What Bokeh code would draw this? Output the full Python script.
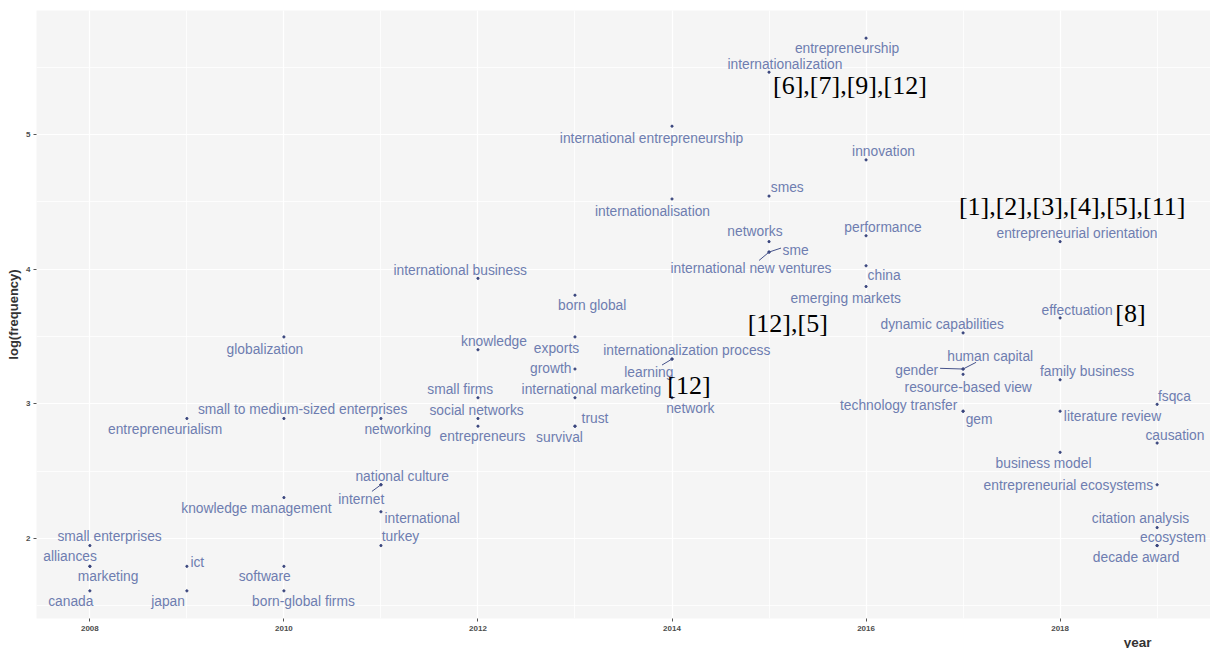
import numpy as np
from bokeh.plotting import figure
from bokeh.models import SingleIntervalTicker, ColumnDataSource, Title
from bokeh.embed import file_html
from bokeh.resources import INLINE
from bokeh.core.properties import value

# ---------------- data ----------------
keywords = [
    "small enterprises", "alliances", "marketing", "canada",
    "entrepreneurialism", "ict", "japan",
    "globalization", "small to medium-sized enterprises", "knowledge management", "software", "born-global firms",
    "networking", "national culture", "internet", "international", "turkey",
    "international business", "knowledge", "small firms", "social networks", "entrepreneurs",
    "born global", "exports", "growth", "international marketing", "trust", "survival",
    "international entrepreneurship", "internationalisation", "internationalization process", "learning", "network",
    "internationalization", "smes", "networks", "sme", "international new ventures",
    "entrepreneurship", "innovation", "performance", "china", "emerging markets",
    "dynamic capabilities", "human capital", "gender", "resource-based view", "technology transfer", "gem",
    "entrepreneurial orientation", "effectuation", "family business", "literature review", "business model",
    "fsqca", "causation", "entrepreneurial ecosystems", "citation analysis", "ecosystem", "decade award",
]
years = [
    2008, 2008, 2008, 2008,
    2009, 2009, 2009,
    2010, 2010, 2010, 2010, 2010,
    2011, 2011, 2011, 2011, 2011,
    2012, 2012, 2012, 2012, 2012,
    2013, 2013, 2013, 2013, 2013, 2013,
    2014, 2014, 2014, 2014, 2014,
    2015, 2015, 2015, 2015, 2015,
    2016, 2016, 2016, 2016, 2016,
    2017, 2017, 2017, 2017, 2017, 2017,
    2018, 2018, 2018, 2018, 2018,
    2019, 2019, 2019, 2019, 2019, 2019,
]
frequency = [
    7, 6, 6, 5,
    18, 6, 5,
    33, 18, 10, 6, 5,
    18, 11, 11, 9, 7,
    51, 30, 21, 18, 17,
    45, 33, 26, 21, 17, 17,
    158, 92, 28, 28, 21,
    236, 94, 67, 62, 62,
    304, 123, 70, 56, 48,
    34, 26, 26, 25, 19, 19,
    67, 38, 24, 19, 14,
    20, 15, 11, 8, 7, 7,
]

# reference annotations: (anchor keyword, text)
ref_anchor = ["internationalization", "entrepreneurial orientation", "effectuation", "emerging markets", "network"]
ref_text = ["[6],[7],[9],[12]", "[1],[2],[3],[4],[5],[11]", "[8]", "[12],[5]", "[12]"]

x_title = "year"
y_title = "log(frequency)"

# ---------------- layout (pixel placement of labels, right / down) ----------------
label_dx = [
    19.7, -19.8, 18.2, -19.1,
    -21.8, 10.4, -18.8,
    -19, 18.7, -27.5, -19.2, 19.5,
    16.8, 21.3, -19.7, 41.2, 19.5,
    -17.7, 16, -17.7, -1.4, 4.6,
    17.2, -18.5, -24.3, 16.4, 20, -15.5,
    -20.5, -19.5, 14.8, -23.2, 18.3,
    15.9, 18.2, -14.1, 26.5, -18.1,
    -19, 17.5, 17, 18, -20.3,
    -20.9, 27.1, -46.4, 5.1, -64.4, 16,
    16.9, 16.9, 27, 52.4, -16.6,
    17.3, 17.8, -88.8, -16.7, 15.8, -21,
]
label_dy = [
    -8.7, -10, 10, 10.7,
    10.7, -4.3, 10.7,
    12.4, -8.6, 11.4, 10, 10.7,
    10.7, -8, 14.3, 7, -8.7,
    -8, -8.7, -8, -7.6, 10.7,
    10.7, 11.4, -0.7, -8, -8, 11.7,
    12.3, 12.4, -8.3, 13.3, 10.3,
    -7.4, -9, -10, -1.6, 16.7,
    10.7, -8, -8.4, 10, 11.7,
    -8.6, -12.7, 1, 13.3, -6, 8.6,
    -8.3, -7.6, -8, 5.6, 10.7,
    -7.7, -8, 1, -9, -7.7, 11.6,
]
segment_end = {
    "internet": (-9, 6.6), "learning": (-10, 6), "sme": (12, -4),
    "international new ventures": (-10, 8.4), "human capital": (13, -6.7), "gender": (-23, -0.7),
}
ref_dx = [80.9, 12, 70.4, -78.3, 17]
ref_dy = [13.3, -35, -4.3, 36.7, -12.3]

# ---------------- build ----------------
x = np.array(years, dtype=float)
y = np.log(np.array(frequency, dtype=float))

x0, x1 = min(years), max(years)
ex = (x1 - x0) * 0.05
xr = (x0 - ex, x1 + ex)
y0, y1 = y.min(), y.max()
ey = (y1 - y0) * 0.05
yr = (y0 - ey, y1 + ey)

FW, FH = 1174, 608
sx = FW / (xr[1] - xr[0])
sy = FH / (yr[1] - yr[0])

p = figure(frame_width=FW, frame_height=FH, x_range=xr, y_range=yr,
           output_backend="svg", toolbar_location=None,
           background_fill_color="#f5f5f5", border_fill_color="white",
           min_border_left=36, min_border_right=0, min_border_top=10, min_border_bottom=28)
p.outline_line_color = None

for ax, interval in ((p.xaxis, 2), (p.yaxis, 1)):
    ax.ticker = SingleIntervalTicker(interval=interval, num_minor_ticks=2)
p.xgrid.ticker = SingleIntervalTicker(interval=2, num_minor_ticks=2)
p.ygrid.ticker = SingleIntervalTicker(interval=1, num_minor_ticks=2)
for g in (p.xgrid, p.ygrid):
    g.grid_line_color = "white"
    g.grid_line_width = 1.2
    g.minor_grid_line_color = "white"
    g.minor_grid_line_width = 0.8

p.axis.axis_line_color = None
p.axis.minor_tick_line_color = None
p.axis.major_tick_in = 0
p.axis.major_tick_out = 3
p.axis.major_tick_line_color = "#555555"
p.axis.major_label_text_font_size = "8px"
p.axis.major_label_text_font_style = "bold"
p.axis.major_label_text_color = "#4d4d4d"
p.axis.major_label_text_font = "Liberation Sans"
p.axis.axis_label_text_font = "Liberation Sans"
p.axis.axis_label_text_font_style = "bold"
p.axis.axis_label_text_color = "#333333"
p.yaxis.major_label_standoff = 2
p.yaxis.axis_label_standoff = 2
p.xaxis.major_label_standoff = 3
p.yaxis.axis_label = y_title
p.yaxis.axis_label_text_font_size = "13px"

# x title: right-aligned, below the tick labels
p.add_layout(Title(text=x_title, align="right", offset=59, standoff=-2,
                   text_font_size="13.5px", text_font_style="bold", text_color="#333333",
                   text_font="Liberation Sans"), "below")

# points
src = ColumnDataSource(dict(x=x, y=y, kw=keywords))
p.scatter("x", "y", source=src, size=2.2, color="#3a467e")

# connector segments
sx0, sy0, sx1, sy1 = [], [], [], []
for k, (ddx, ddy) in segment_end.items():
    i = keywords.index(k)
    sx0.append(x[i]); sy0.append(y[i])
    sx1.append(x[i] + ddx / sx); sy1.append(y[i] - ddy / sy)
p.segment(sx0, sy0, sx1, sy1, line_color="#45528a", line_width=1)

# keyword labels
lx = x + np.array(label_dx) / sx
ly = y - np.array(label_dy) / sy
lsrc = ColumnDataSource(dict(x=lx, y=ly, t=keywords))
p.text("x", "y", text="t", source=lsrc, text_align="center", text_baseline="middle",
       text_font_size="13.8px", text_color="#6e7db0", text_font=value("Liberation Sans"))

# reference annotations
ax_ = [x[keywords.index(k)] + d / sx for k, d in zip(ref_anchor, ref_dx)]
ay_ = [y[keywords.index(k)] - d / sy for k, d in zip(ref_anchor, ref_dy)]
rsrc = ColumnDataSource(dict(x=ax_, y=ay_, t=ref_text))
p.text("x", "y", text="t", source=rsrc, text_align="center", text_baseline="middle",
       text_font_size="26px", text_color="black", text_font=value("Liberation Serif"))

open("out.html", "w").write(file_html(p, INLINE))
